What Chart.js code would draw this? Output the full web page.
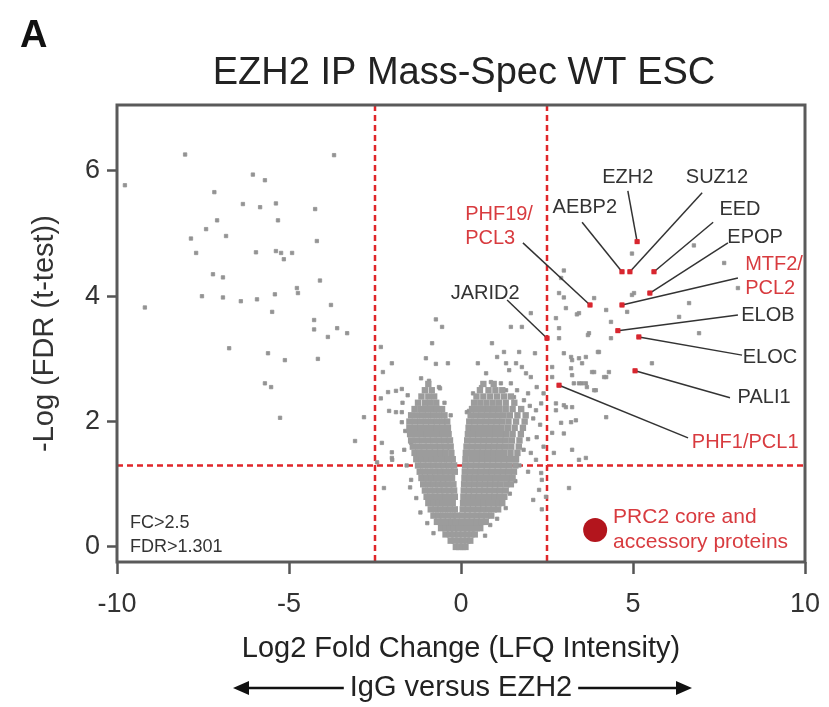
<!DOCTYPE html>
<html>
<head>
<meta charset="utf-8">
<script src="https://cdn.jsdelivr.net/npm/chart.js@4.4.0/dist/chart.umd.min.js"></script>
<style>
html, body { margin: 0; padding: 0; background: #fff; }
#wrap { width: 829px; height: 707px; }
</style>
</head>
<body>
<div id="wrap"><canvas id="volcano" width="829" height="707"></canvas></div>
<script>
// Axis ticks
const xTicks = [-10, -5, 0, 5, 10];
const xTickLabels = ['-10', '-5', '0', '5', '10'];
const yTicks = [0, 2, 4, 6];
const yTickLabels = ['0', '2', '4', '6'];

// Cut-offs
const fcCut = 2.5;
const fdrCut = 1.301;

// Dense central cloud, read row by row: [ -log FDR, [log2 FC ...] ]
const cloudRows = [
  [0.00, [-0.15, -0.05, 0.05, 0.13]],
  [0.10, [-0.30, -0.18, -0.06, 0.06, 0.18, 0.27]],
  [0.20, [-0.45, -0.32, -0.20, -0.08, 0.05, 0.17, 0.30, 0.40]],
  [0.30, [-0.58, -0.45, -0.32, -0.20, -0.08, 0.08, 0.20, 0.33, 0.46, 0.56]],
  [0.40, [-0.70, -0.56, -0.42, -0.28, -0.15, 0.02, 0.15, 0.30, 0.45, 0.60, 0.72]],
  [0.50, [-0.80, -0.66, -0.52, -0.38, -0.24, -0.12, 0.04, 0.18, 0.32, 0.46, 0.60, 0.74, 0.88]],
  [0.60, [-0.88, -0.74, -0.60, -0.46, -0.32, -0.18, 0.05, 0.20, 0.35, 0.50, 0.65, 0.80, 0.95, 1.08]],
  [0.70, [-0.95, -0.80, -0.66, -0.52, -0.38, -0.24, 0.06, 0.20, 0.35, 0.50, 0.65, 0.80, 0.95, 1.10, 1.20]],
  [0.80, [-1.00, -0.86, -0.72, -0.58, -0.44, -0.30, -0.18, 0.07, 0.22, 0.37, 0.52, 0.67, 0.82, 0.97, 1.12, 1.26]],
  [0.90, [-1.05, -0.90, -0.76, -0.62, -0.48, -0.34, -0.20, 0.08, 0.23, 0.38, 0.53, 0.68, 0.83, 0.98, 1.13, 1.30]],
  [1.00, [-1.10, -0.95, -0.80, -0.66, -0.52, -0.38, -0.22, 0.09, 0.24, 0.40, 0.55, 0.70, 0.85, 1.00, 1.15, 1.32, 1.45]],
  [1.10, [-1.15, -1.00, -0.85, -0.70, -0.56, -0.42, -0.26, 0.10, 0.25, 0.40, 0.55, 0.70, 0.86, 1.02, 1.18, 1.34, 1.50]],
  [1.20, [-1.20, -1.05, -0.90, -0.75, -0.60, -0.45, -0.30, -0.18, 0.11, 0.26, 0.42, 0.58, 0.74, 0.90, 1.06, 1.22, 1.38, 1.54]],
  [1.30, [-1.25, -1.10, -0.95, -0.80, -0.65, -0.50, -0.35, -0.20, 0.12, 0.28, 0.44, 0.60, 0.76, 0.92, 1.08, 1.24, 1.40, 1.58]],
  [1.40, [-1.30, -1.15, -1.00, -0.85, -0.70, -0.55, -0.40, -0.24, 0.13, 0.30, 0.46, 0.62, 0.78, 0.94, 1.10, 1.26, 1.42, 1.60]],
  [1.50, [-1.35, -1.20, -1.05, -0.90, -0.75, -0.60, -0.45, -0.28, 0.14, 0.30, 0.46, 0.62, 0.78, 0.94, 1.10, 1.26, 1.44, 1.64]],
  [1.60, [-1.40, -1.24, -1.08, -0.92, -0.76, -0.60, -0.44, -0.30, 0.16, 0.32, 0.48, 0.64, 0.80, 0.96, 1.12, 1.28, 1.46, 1.68]],
  [1.70, [-1.45, -1.28, -1.12, -0.96, -0.80, -0.64, -0.48, -0.32, 0.18, 0.34, 0.50, 0.66, 0.82, 0.98, 1.14, 1.30, 1.48, 1.70]],
  [1.80, [-1.48, -1.32, -1.16, -1.00, -0.84, -0.68, -0.52, -0.36, 0.20, 0.36, 0.52, 0.68, 0.84, 1.00, 1.16, 1.32, 1.50, 1.74]],
  [1.90, [-1.50, -1.34, -1.18, -1.02, -0.86, -0.70, -0.54, -0.38, 0.22, 0.38, 0.54, 0.70, 0.86, 1.02, 1.18, 1.36, 1.56, 1.80]],
  [2.00, [-1.50, -1.34, -1.18, -1.02, -0.86, -0.70, -0.54, -0.40, 0.24, 0.40, 0.56, 0.72, 0.88, 1.04, 1.20, 1.38, 1.60, 1.85]],
  [2.10, [-1.45, -1.28, -1.12, -0.96, -0.80, -0.64, -0.48, 0.28, 0.44, 0.60, 0.76, 0.92, 1.08, 1.24, 1.42, 1.64, 1.88]],
  [2.20, [-1.35, -1.18, -1.02, -0.86, -0.70, -0.55, 0.32, 0.48, 0.64, 0.80, 0.96, 1.12, 1.30, 1.50, 1.75]],
  [2.30, [-1.25, -1.05, -0.90, -0.72, 0.38, 0.56, 0.74, 0.92, 1.10, 1.30, 1.55]],
  [2.40, [-1.15, -0.95, -0.78, 0.45, 0.65, 0.85, 1.05, 1.25, 1.45]],
  [2.50, [-1.05, -0.85, 0.55, 0.80, 1.00, 1.20]],
  [2.60, [-0.95, 0.65, 0.95]]
];

// Scattered proteins outside the cloud: [log2 FC, -log FDR]
const otherProteins = [
  [-8.02, 6.26], [-3.69, 6.25], [-9.77, 5.77], [-6.05, 5.94], [-5.70, 5.85], [-7.17, 5.66],
  [-6.34, 5.47], [-5.84, 5.42], [-5.38, 5.48], [-4.24, 5.39], [-7.09, 5.21], [-5.32, 5.21],
  [-7.41, 5.07], [-7.85, 4.92], [-6.83, 4.96], [-4.19, 4.88], [-7.70, 4.69], [-5.96, 4.70],
  [-5.38, 4.72], [-5.23, 4.69], [-5.15, 4.59], [-4.91, 4.69], [-7.21, 4.35], [-6.92, 4.30],
  [-4.10, 4.25], [-4.77, 4.13], [-4.74, 4.05], [-7.53, 4.00], [-6.92, 3.98], [-6.40, 3.92],
  [-5.93, 3.95], [-5.41, 4.03], [-9.19, 3.82], [-3.78, 3.86], [-5.49, 3.75], [-4.27, 3.62],
  [-4.27, 3.47], [-3.60, 3.49], [-3.87, 3.35], [-3.31, 3.41], [-6.74, 3.17], [-5.61, 3.09],
  [-5.12, 2.98], [-4.16, 3.00], [-5.70, 2.61], [-5.52, 2.55], [-5.26, 2.06], [-2.82, 2.07],
  [-3.08, 1.69],
  [-2.33, 3.19], [-2.01, 2.93], [-2.27, 2.79], [-2.33, 2.37], [-2.12, 2.47], [-1.89, 2.49],
  [-1.72, 2.52], [-2.09, 2.17], [-1.89, 2.15], [-1.72, 2.15], [-1.72, 1.99], [-2.30, 1.66],
  [-2.01, 1.51], [-2.01, 1.42], [-2.44, 1.35], [-2.24, 0.94], [-1.45, 1.66], [-1.45, 1.07],
  [-2.00, 1.39], [-0.64, 2.55], [0.17, 2.15],
  [-0.73, 3.63], [-0.55, 3.51], [-0.84, 3.25], [-1.02, 3.01], [-0.73, 2.92], [-0.38, 2.93],
  [-1.16, 2.69], [-0.93, 2.65], [-0.61, 2.53],
  [-1.62, 1.85], [-1.65, 1.55], [-1.58, 1.30], [-1.48, 0.95], [-1.30, 0.78], [-1.18, 0.55],
  [-0.98, 0.38], [-0.80, 0.22], [-1.70, 2.30], [-1.55, 2.42], [-0.48, 2.30], [-0.30, 2.10],
  [0.70, 0.18], [0.85, 0.35], [1.05, 0.45], [1.30, 0.62], [1.42, 0.85], [1.58, 1.05],
  [1.70, 1.30], [1.82, 1.55], [1.95, 1.72], [2.00, 2.25], [1.95, 2.45], [0.35, 2.45],
  [0.90, 3.25], [1.45, 3.51], [1.77, 3.51], [2.03, 3.73], [1.25, 3.11], [1.69, 3.11],
  [2.15, 3.09], [1.05, 3.03], [0.49, 2.93], [0.73, 2.77], [1.31, 2.93], [1.60, 2.93],
  [1.40, 2.82], [1.77, 2.87], [1.89, 2.77], [2.03, 2.71], [0.58, 2.55], [0.87, 2.63],
  [1.16, 2.61], [1.45, 2.61], [1.63, 2.50], [1.31, 2.50], [1.54, 2.39], [1.83, 2.34],
  [0.23, 2.17], [2.18, 2.18], [2.33, 2.29],
  [2.03, 1.50], [2.18, 1.39], [2.33, 1.18], [2.35, 1.07], [2.27, 0.91], [2.47, 0.80],
  [2.20, 1.75], [2.30, 1.95], [2.10, 2.05], [2.40, 2.45], [2.20, 2.55], [2.35, 0.60],
  [2.10, 0.75], [1.95, 1.20], [2.40, 1.60],
  [4.97, 4.68], [6.77, 4.81], [7.65, 4.53], [8.05, 4.13], [5.03, 4.05], [2.99, 4.41],
  [2.91, 4.29], [2.85, 4.05], [2.99, 3.98], [3.05, 3.81], [3.87, 3.97], [4.22, 3.78],
  [4.83, 3.75], [4.97, 4.02], [6.63, 3.89], [3.43, 3.73], [4.36, 3.59], [6.34, 3.67],
  [6.92, 3.41], [3.72, 3.41], [4.36, 3.33], [2.76, 3.65], [2.85, 3.49], [2.85, 3.33],
  [4.01, 3.11], [3.63, 3.03], [3.43, 3.01], [3.23, 2.98], [3.81, 2.79], [3.52, 2.93],
  [5.55, 2.93], [4.22, 2.71], [3.92, 2.50], [3.28, 2.61], [3.43, 2.61], [3.63, 2.61],
  [3.05, 2.23], [3.23, 2.23], [4.22, 2.07], [2.76, 2.29], [2.65, 2.87], [2.65, 2.71],
  [2.99, 3.09], [3.20, 3.03], [3.20, 2.85], [3.37, 3.71], [3.69, 3.38], [3.98, 3.11],
  [3.87, 2.79], [4.30, 2.79], [4.16, 2.71], [3.23, 2.74], [3.52, 2.61], [3.66, 2.55],
  [3.87, 2.50], [2.99, 2.26], [3.20, 1.99], [2.91, 1.98], [3.23, 1.55], [3.63, 1.42],
  [3.14, 0.94], [2.76, 2.18], [3.34, 2.02], [2.99, 1.81], [3.43, 1.39], [2.65, 1.82],
  [2.70, 1.50]
];

// PRC2 core and accessory proteins
const prc2Names = ['EZH2', 'SUZ12', 'AEBP2', 'EED', 'EPOP', 'PHF19/PCL3', 'MTF2/PCL2',
  'JARID2', 'ELOB', 'ELOC', 'PALI1', 'PHF1/PCL1'];
const prc2FC  = [5.12, 4.91, 4.68, 5.61, 5.49, 3.75, 4.68, 2.50, 4.56, 5.17, 5.06, 2.85];
const prc2FDR = [4.87, 4.39, 4.39, 4.39, 4.05, 3.86, 3.86, 3.33, 3.45, 3.35, 2.81, 2.58];

const FONT = '"Liberation Sans", Arial, Helvetica, sans-serif';
const RED = '#d8262f';
const LABEL_RED = '#d83b3f';
const DARK = '#333';

// label placement in data units: text anchor (tx,ty), leader start (lx,ly)
const labelLayout = {
  'EZH2':       { lines: ['EZH2'], tx: 4.85, ty: 5.89, align: 'center', lx: 4.85, ly: 5.68, color: DARK },
  'SUZ12':      { lines: ['SUZ12'], tx: 7.44, ty: 5.89, align: 'center', lx: 7.01, ly: 5.65, color: DARK },
  'AEBP2':      { lines: ['AEBP2'], tx: 3.60, ty: 5.41, align: 'center', lx: 3.52, ly: 5.18, color: DARK },
  'EED':        { lines: ['EED'], tx: 8.11, ty: 5.38, align: 'center', lx: 7.33, ly: 5.18, color: DARK },
  'EPOP':       { lines: ['EPOP'], tx: 8.55, ty: 4.93, align: 'center', lx: 7.76, ly: 4.85, color: DARK },
  'PHF19/PCL3': { lines: ['PHF19/', 'PCL3'], tx: 0.12, ty: 5.30, align: 'left', lx: 1.80, ly: 4.85, color: LABEL_RED },
  'MTF2/PCL2':  { lines: ['MTF2/', 'PCL2'], tx: 8.26, ty: 4.50, align: 'left', lx: 8.05, ly: 4.29, color: LABEL_RED },
  'JARID2':     { lines: ['JARID2'], tx: 0.70, ty: 4.05, align: 'center', lx: 1.34, ly: 3.94, color: DARK },
  'ELOB':       { lines: ['ELOB'], tx: 8.92, ty: 3.70, align: 'center', lx: 8.05, ly: 3.70, color: DARK },
  'ELOC':       { lines: ['ELOC'], tx: 8.98, ty: 3.03, align: 'center', lx: 8.17, ly: 3.06, color: DARK },
  'PALI1':      { lines: ['PALI1'], tx: 8.81, ty: 2.39, align: 'center', lx: 7.82, ly: 2.38, color: DARK },
  'PHF1/PCL1':  { lines: ['PHF1/PCL1'], tx: 8.26, ty: 1.67, align: 'center', lx: 6.60, ly: 1.74, color: LABEL_RED }
};

const cloudData = cloudRows.flatMap(([y, xs]) => xs.map(x => ({ x, y })));
const otherData = otherProteins.map(([x, y]) => ({ x, y }));
const prc2Data = prc2Names.map((n, i) => ({ x: prc2FC[i], y: prc2FDR[i] }));

const volcanoDecor = {
  id: 'volcanoDecor',
  beforeDraw(chart) {
    const ctx = chart.ctx;
    ctx.save();
    ctx.fillStyle = '#fff';
    ctx.fillRect(0, 0, chart.width, chart.height);
    ctx.restore();
  },
  beforeDatasetDraw(chart, args) {
    if (args.index !== 2) return;
    // threshold lines go under the PRC2 marks but over the cloud
    const { ctx, chartArea: a, scales: { x, y } } = chart;
    ctx.save();
    ctx.strokeStyle = '#e0262a';
    ctx.lineWidth = 2.5;
    ctx.setLineDash([6, 4]);
    ctx.beginPath();
    [-fcCut, fcCut].forEach(v => {
      const px = x.getPixelForValue(v);
      ctx.moveTo(px, a.top);
      ctx.lineTo(px, a.bottom);
    });
    const py = y.getPixelForValue(fdrCut);
    ctx.moveTo(a.left, py);
    ctx.lineTo(a.right, py);
    ctx.stroke();
    ctx.restore();
  },
  afterDraw(chart) {
    const { ctx, chartArea: a, scales: { x, y } } = chart;
    ctx.save();

    // frame
    ctx.strokeStyle = '#5a5a5a';
    ctx.lineWidth = 3;
    ctx.strokeRect(a.left, a.top, a.right - a.left, a.bottom - a.top);

    // leader lines
    ctx.strokeStyle = '#333';
    ctx.lineWidth = 1.5;
    prc2Names.forEach((n, i) => {
      const l = labelLayout[n];
      ctx.beginPath();
      ctx.moveTo(x.getPixelForValue(l.lx), y.getPixelForValue(l.ly));
      ctx.lineTo(x.getPixelForValue(prc2FC[i]), y.getPixelForValue(prc2FDR[i]));
      ctx.stroke();
    });
    // redraw PRC2 marks on top of the leaders
    ctx.fillStyle = RED;
    prc2Names.forEach((n, i) => {
      const px = x.getPixelForValue(prc2FC[i]);
      const py = y.getPixelForValue(prc2FDR[i]);
      ctx.fillRect(px - 2.5, py - 2.5, 5, 5);
    });

    // protein labels
    ctx.font = '20px ' + FONT;
    ctx.textBaseline = 'middle';
    prc2Names.forEach(n => {
      const l = labelLayout[n];
      ctx.fillStyle = l.color;
      ctx.textAlign = l.align;
      const px = x.getPixelForValue(l.tx);
      const py = y.getPixelForValue(l.ty);
      l.lines.forEach((t, k) => ctx.fillText(t, px, py + k * 24));
    });

    // cut-off note
    ctx.fillStyle = DARK;
    ctx.textAlign = 'left';
    ctx.font = '18px ' + FONT;
    ctx.fillText('FC>2.5', x.getPixelForValue(-9.62), y.getPixelForValue(0.38));
    ctx.fillText('FDR>1.301', x.getPixelForValue(-9.62), y.getPixelForValue(0.0));

    // legend
    ctx.fillStyle = '#b3151d';
    ctx.beginPath();
    ctx.arc(x.getPixelForValue(3.90), y.getPixelForValue(0.27), 12, 0, Math.PI * 2);
    ctx.fill();
    ctx.fillStyle = LABEL_RED;
    ctx.font = '21px ' + FONT;
    ctx.fillText('PRC2 core and', x.getPixelForValue(4.42), y.getPixelForValue(0.48));
    ctx.fillText('accessory proteins', x.getPixelForValue(4.42), y.getPixelForValue(0.08));

    // panel letter and title
    ctx.fillStyle = '#111';
    ctx.textAlign = 'left';
    ctx.font = 'bold 38px ' + FONT;
    ctx.fillText('A', 20, 37);
    ctx.fillStyle = '#222';
    ctx.textAlign = 'center';
    ctx.font = '38px ' + FONT;
    const cx = (a.left + a.right) / 2;
    ctx.fillText('EZH2 IP Mass-Spec WT ESC', cx + 3, a.top - 31);

    // x-axis title and direction arrows
    ctx.font = '29px ' + FONT;
    ctx.fillText('Log2 Fold Change (LFQ Intensity)', cx, a.bottom + 87);
    const sub = 'IgG versus EZH2';
    const ay = a.bottom + 126;
    ctx.fillText(sub, cx, ay);
    const w = ctx.measureText(sub).width;
    const left0 = cx - 228, right0 = cx + 231;
    ctx.strokeStyle = '#111';
    ctx.fillStyle = '#111';
    ctx.lineWidth = 2.5;
    ctx.beginPath();
    ctx.moveTo(left0 + 12, ay);
    ctx.lineTo(cx - w / 2 - 6, ay);
    ctx.moveTo(cx + w / 2 + 6, ay);
    ctx.lineTo(right0 - 12, ay);
    ctx.stroke();
    ctx.beginPath();
    ctx.moveTo(left0, ay);
    ctx.lineTo(left0 + 16, ay - 7);
    ctx.lineTo(left0 + 16, ay + 7);
    ctx.closePath();
    ctx.moveTo(right0, ay);
    ctx.lineTo(right0 - 16, ay - 7);
    ctx.lineTo(right0 - 16, ay + 7);
    ctx.closePath();
    ctx.fill();

    ctx.restore();
  }
};

const ctx = document.getElementById('volcano').getContext('2d');
const volcanoChart = new Chart(ctx, {
  type: 'scatter',
  data: {
    datasets: [
      {
        label: 'All proteins (dense)',
        data: cloudData,
        pointStyle: 'rect',
        pointRadius: 4.5,
        backgroundColor: '#9c9c9c',
        borderWidth: 0
      },
      {
        label: 'All proteins',
        data: otherData,
        pointStyle: 'rect',
        pointRadius: 2.4,
        backgroundColor: '#939393',
        borderColor: '#939393',
        borderWidth: 0.8
      },
      {
        label: 'PRC2 core and accessory proteins',
        data: prc2Data,
        pointStyle: 'rect',
        pointRadius: 2.6,
        backgroundColor: RED,
        borderColor: RED,
        borderWidth: 0.8
      }
    ]
  },
  options: {
    responsive: false,
    animation: false,
    devicePixelRatio: 1,
    layout: { padding: { top: 105, right: 24, left: 0, bottom: 0 } },
    plugins: {
      legend: { display: false },
      tooltip: { enabled: false }
    },
    scales: {
      x: {
        type: 'linear',
        min: -10,
        max: 10,
        afterBuildTicks: s => { s.ticks = xTicks.map(v => ({ value: v })); },
        afterFit: s => { s.height = 145; s.paddingLeft = 0; s.paddingRight = 0; },
        grid: { drawOnChartArea: false, tickLength: 12, tickWidth: 2.5, tickColor: '#555' },
        border: { display: false },
        ticks: {
          font: { size: 27, family: FONT },
          color: DARK,
          padding: 14,
          maxRotation: 0,
          callback: v => xTickLabels[xTicks.indexOf(v)]
        }
      },
      y: {
        type: 'linear',
        min: -0.24,
        max: 7.05,
        afterBuildTicks: s => { s.ticks = yTicks.map(v => ({ value: v })); },
        afterFit: s => { s.width = 117; },
        grid: { drawOnChartArea: false, tickLength: 10, tickWidth: 2.5, tickColor: '#555' },
        border: { display: false },
        ticks: {
          font: { size: 27, family: FONT },
          color: DARK,
          padding: 7,
          callback: v => yTickLabels[yTicks.indexOf(v)]
        },
        title: {
          display: true,
          text: '-Log (FDR (t-test))',
          font: { size: 29, family: FONT },
          color: DARK,
          padding: { top: 28, bottom: 0 }
        }
      }
    }
  },
  plugins: [volcanoDecor]
});
</script>
</body>
</html>
